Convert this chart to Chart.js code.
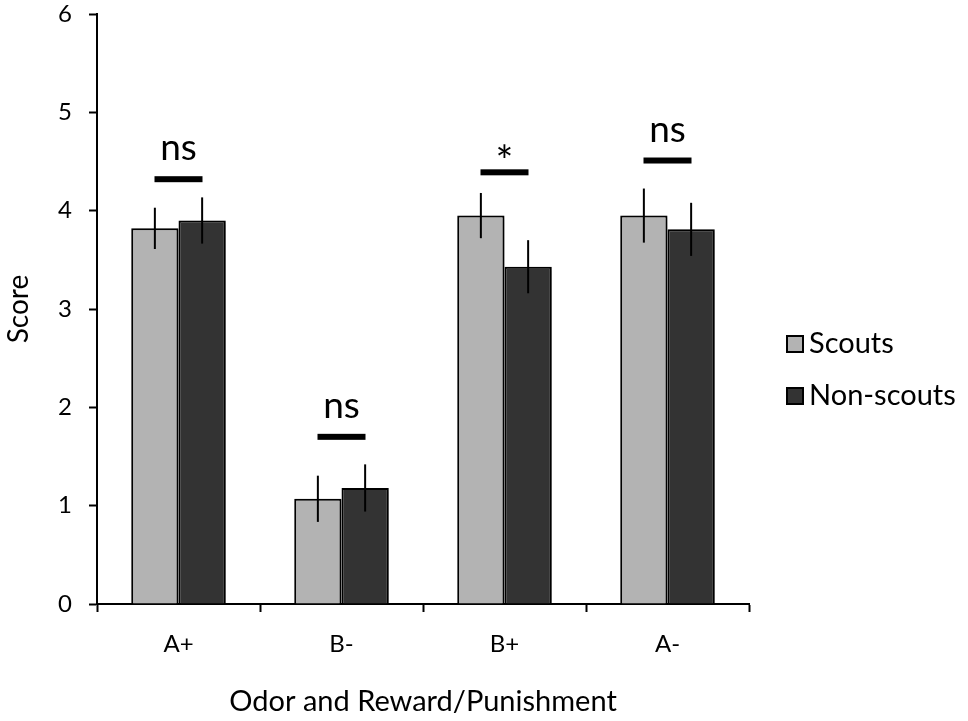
<!DOCTYPE html>
<html>
<head>
<meta charset="utf-8">
<script src="https://cdn.jsdelivr.net/npm/chart.js@4/dist/chart.umd.min.js"></script>
<style>
  body { margin: 0; background: #fff; }
  #wrap { width: 968px; height: 721px; }
</style>
</head>
<body>
<div id="wrap"><canvas id="scoreChart" width="968" height="721"></canvas></div>
<script>
// values
const categories = ["A+", "B-", "B+", "A-"];
const scoutScores = [3.82, 1.07, 3.95, 3.95];
const scoutErrors = [0.21, 0.235, 0.23, 0.275];
const nonScoutScores = [3.90, 1.18, 3.43, 3.81];
const nonScoutErrors = [0.235, 0.24, 0.27, 0.27];
const sigLabels = ["ns", "ns", "*", "ns"];
const sigLevels = [4.32, 1.70, 4.39, 4.51];
const yTicks = [0, 1, 2, 3, 4, 5, 6];

const FONT = "Lato, 'Open Sans', sans-serif";

// soft shadow under the bars only
const barShadowPlugin = {
    id: 'barShadow',
    beforeDatasetsDraw(chart){
        const ctx = chart.ctx;
        ctx.save();
        ctx.shadowColor = 'rgba(0,0,0,0.3)';
        ctx.shadowBlur = 4;
        ctx.shadowOffsetX = 2;
        ctx.shadowOffsetY = 1;
    },
    afterDatasetsDraw(chart){
        chart.ctx.restore();
    }
};

// error bars drawn on top of each bar
const errorBarPlugin = {
    id: 'errorBars',
    afterDatasetsDraw(chart){
        const ctx = chart.ctx;
        const y = chart.scales.y;
        ctx.save();
        ctx.strokeStyle = '#000';
        ctx.lineWidth = 2;
        chart.data.datasets.forEach((ds, i) => {
            const meta = chart.getDatasetMeta(i);
            meta.data.forEach((bar, j) => {
                const v = ds.data[j], e = ds.errors[j];
                ctx.beginPath();
                ctx.moveTo(bar.x, y.getPixelForValue(v + e));
                ctx.lineTo(bar.x, y.getPixelForValue(v - e));
                ctx.stroke();
            });
        });
        ctx.restore();
    }
};

// significance lines + labels over each pair
const sigPlugin = {
    id: 'sigMarks',
    afterDatasetsDraw(chart){
        const ctx = chart.ctx;
        const y = chart.scales.y;
        const m0 = chart.getDatasetMeta(0), m1 = chart.getDatasetMeta(1);
        ctx.save();
        ctx.fillStyle = '#000';
        ctx.textAlign = 'center';
        ctx.textBaseline = 'alphabetic';
        sigLevels.forEach((lvl, j) => {
            const cx = (m0.data[j].x + m1.data[j].x) / 2;
            const py = y.getPixelForValue(lvl);
            ctx.fillRect(cx - 24, py - 3, 48, 6);
            if(sigLabels[j] == "*"){
                ctx.font = "42px " + FONT;
                ctx.fillText(sigLabels[j], cx, py + 4);
            }
            else{
                ctx.font = "37px " + FONT;
                ctx.fillText(sigLabels[j], cx, py - 19);
            }
        });
        ctx.restore();
    }
};

// legend at the right, outside the plot
const legendPlugin = {
    id: 'sideLegend',
    afterDraw(chart){
        const ctx = chart.ctx;
        const a = chart.chartArea;
        ctx.save();
        ctx.font = "29px " + FONT;
        ctx.textBaseline = 'middle';
        ctx.textAlign = 'left';
        chart.data.datasets.forEach((ds, i) => {
            const ly = 344 + i * 52;
            const lx = a.right + 38;
            ctx.fillStyle = ds.backgroundColor;
            ctx.fillRect(lx, ly - 8, 16, 16);
            ctx.strokeStyle = '#000';
            ctx.lineWidth = 2;
            ctx.strokeRect(lx, ly - 8, 16, 16);
            ctx.fillStyle = '#000';
            ctx.fillText(ds.label, lx + 22, ly);
        });
        ctx.restore();
    }
};

const ctx = document.getElementById('scoreChart').getContext('2d');
const scoreChart = new Chart(ctx, {
    type: 'bar',
    data: {
        labels: categories,
        datasets: [
            {
                label: 'Scouts',
                data: scoutScores,
                errors: scoutErrors,
                backgroundColor: '#b3b3b3',
                borderColor: '#000',
                borderWidth: 2,
                borderSkipped: 'bottom'
            },
            {
                label: 'Non-scouts',
                data: nonScoutScores,
                errors: nonScoutErrors,
                backgroundColor: '#333333',
                borderColor: '#000',
                borderWidth: 2,
                borderSkipped: 'bottom'
            }
        ]
    },
    options: {
        responsive: false,
        animation: false,
        devicePixelRatio: 1,
        layout: { padding: { top: 14, right: 219, left: 0, bottom: 0 } },
        datasets: { bar: { categoryPercentage: 0.58, barPercentage: 1.0 } },
        plugins: {
            legend: { display: false },
            tooltip: { enabled: false }
        },
        scales: {
            x: {
                grid: {
                    offset: true,
                    drawOnChartArea: false,
                    drawTicks: true,
                    tickLength: 8,
                    tickWidth: 2,
                    color: '#000'
                },
                border: { color: '#000', width: 2 },
                ticks: { color: '#000', font: { family: FONT, size: 24 }, padding: 18 },
                title: {
                    display: true,
                    text: 'Odor and Reward/Punishment',
                    color: '#000',
                    font: { family: FONT, size: 29 },
                    padding: { top: 0, bottom: 2 }
                },
                afterFit(scale){
                    scale.height = 117;
                    scale.paddingLeft = 0;
                    scale.paddingRight = 0;
                }
            },
            y: {
                min: 0,
                max: 6,
                afterBuildTicks(scale){ scale.ticks = yTicks.map(v => ({ value: v })); },
                grid: {
                    drawOnChartArea: false,
                    drawTicks: true,
                    tickLength: 8,
                    tickWidth: 2,
                    color: '#000'
                },
                border: { color: '#000', width: 2 },
                ticks: { color: '#000', font: { family: FONT, size: 24 }, padding: 17 },
                title: {
                    display: true,
                    text: 'Score',
                    color: '#000',
                    font: { family: FONT, size: 28 },
                    padding: { top: 2, bottom: 0 }
                },
                afterFit(scale){
                    scale.width = 97;
                    scale.paddingTop = 0;
                    scale.paddingBottom = 0;
                }
            }
        }
    },
    plugins: [barShadowPlugin, errorBarPlugin, sigPlugin, legendPlugin]
});
</script>
</body>
</html>
